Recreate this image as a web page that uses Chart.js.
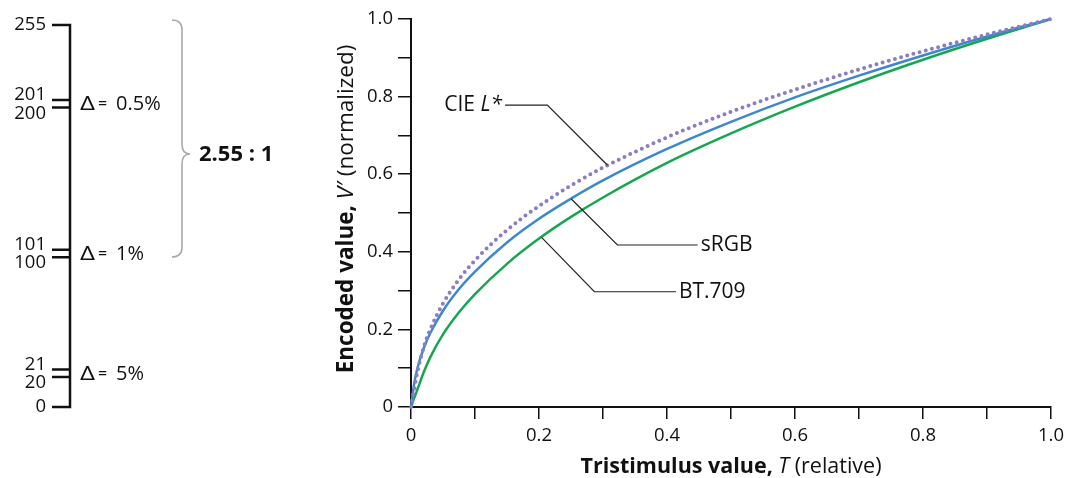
<!DOCTYPE html>
<html>
<head>
<meta charset="utf-8">
<script src="https://cdn.jsdelivr.net/npm/chart.js@4"></script>
<style>
html, body { margin: 0; padding: 0; background: #fff; }
</style>
</head>
<body>
<canvas id="chart" width="1070" height="478"></canvas>
<script>
// values
const tristimulus = [0, 0.005, 0.01, 0.02, 0.03, 0.05, 0.075, 0.1, 0.15, 0.2, 0.25, 0.3, 0.4, 0.5, 0.6, 0.7, 0.8, 0.9, 1.0];
const cieL  = [0, 0.045, 0.090, 0.155, 0.200, 0.267, 0.329, 0.378, 0.456, 0.518, 0.571, 0.617, 0.695, 0.761, 0.818, 0.870, 0.917, 0.960, 1.0];
const srgb  = [0, 0.061, 0.100, 0.152, 0.190, 0.248, 0.304, 0.349, 0.424, 0.485, 0.537, 0.584, 0.665, 0.735, 0.798, 0.854, 0.906, 0.955, 1.0];
const bt709 = [0, 0.023, 0.045, 0.090, 0.128, 0.187, 0.244, 0.291, 0.369, 0.434, 0.490, 0.540, 0.629, 0.705, 0.774, 0.837, 0.895, 0.949, 1.0];

// left-hand code value scale
const codeValues = [0, 20, 21, 100, 101, 200, 201, 255];
const deltaLabels = ['5%', '1%', '0.5%'];
const ratioLabel = '2.55 : 1';

const FONT = "'Open Sans', sans-serif";
const INK = '#111';

const pts = ys => tristimulus.map((t, i) => ({ x: t, y: ys[i] }));

// draws text made of runs with different styles
function drawRuns(ctx, runs, x, y, align) {
    let total = 0;
    runs.forEach(r => { ctx.font = r.font; r.w = ctx.measureText(r.text).width; total += r.w; });
    let cx = align === 'center' ? x - total / 2 : align === 'right' ? x - total : x;
    ctx.textAlign = 'left';
    runs.forEach(r => { ctx.font = r.font; ctx.fillText(r.text, cx, y); cx += r.w; });
}

const leaders = [
    { runs: [{ text: 'CIE ', font: `21px ${FONT}` }, { text: 'L*', font: `italic 21px ${FONT}` }],
      anchor: [0.307, 0.623], elbow: [0.213, 0.778], end: [0.147, 0.778], side: 'left' },
    { runs: [{ text: 'sRGB', font: `21px ${FONT}` }],
      anchor: [0.2505, 0.536], elbow: [0.3225, 0.4175], end: [0.448, 0.4175], side: 'right' },
    { runs: [{ text: 'BT.709', font: `21px ${FONT}` }],
      anchor: [0.204, 0.437], elbow: [0.2866, 0.297], end: [0.414, 0.297], side: 'right' }
];

const decor = {
    id: 'decor',
    afterDatasetsDraw(chart) {
        const { ctx, scales: { x, y } } = chart;
        ctx.save();
        ctx.strokeStyle = '#222';
        ctx.lineWidth = 1.2;
        ctx.fillStyle = INK;
        ctx.textBaseline = 'middle';
        leaders.forEach(l => {
            ctx.beginPath();
            ctx.moveTo(x.getPixelForValue(l.anchor[0]), y.getPixelForValue(l.anchor[1]));
            ctx.lineTo(x.getPixelForValue(l.elbow[0]), y.getPixelForValue(l.elbow[1]));
            ctx.lineTo(x.getPixelForValue(l.end[0]), y.getPixelForValue(l.end[1]));
            ctx.stroke();
            const ex = x.getPixelForValue(l.end[0]), ey = y.getPixelForValue(l.end[1]);
            if (l.side === 'left') drawRuns(ctx, l.runs, ex - 3, ey, 'right');
            else drawRuns(ctx, l.runs, ex + 3, ey, 'left');
        });
        ctx.restore();
    },
    afterDraw(chart) {
        const { ctx, chartArea: a } = chart;
        ctx.save();
        ctx.fillStyle = INK;

        // axis titles
        ctx.textBaseline = 'alphabetic';
        drawRuns(ctx, [
            { text: 'Tristimulus value, ', font: `bold 21.5px ${FONT}` },
            { text: 'T', font: `italic 21.5px ${FONT}` },
            { text: ' (relative)', font: `21.5px ${FONT}` }
        ], (a.left + a.right) / 2, 473, 'center');

        ctx.save();
        ctx.translate(353, (a.top + a.bottom) / 2 - 4);
        ctx.rotate(-Math.PI / 2);
        drawRuns(ctx, [
            { text: 'Encoded value, ', font: `bold 22.5px ${FONT}` },
            { text: 'V\u2032', font: `italic 22.5px ${FONT}` },
            { text: ' (normalized)', font: `22.5px ${FONT}` }
        ], 0, 0, 'center');
        ctx.restore();

        // code value scale on the left
        const y0 = 407, y255 = 25, barX = 70, tickX = 52;
        const codeY = v => y0 - v / 255 * (y0 - y255);
        ctx.strokeStyle = INK;
        ctx.lineWidth = 2.5;
        ctx.lineJoin = 'miter';
        ctx.beginPath();
        ctx.moveTo(tickX, y255);
        ctx.lineTo(barX, y255);
        ctx.lineTo(barX, y0);
        ctx.lineTo(tickX, y0);
        ctx.stroke();

        ctx.font = `18.5px ${FONT}`;
        ctx.textAlign = 'right';
        ctx.textBaseline = 'middle';
        ctx.fillText(String(codeValues[0]), 46, y0);
        ctx.fillText(String(codeValues[codeValues.length - 1]), 46, y255);

        const pairs = codeValues.filter(v => codeValues.includes(v + 1));
        pairs.forEach((v, i) => {
            const lo = codeY(v), hi = lo - 7.5;
            ctx.lineWidth = 2.5;
            ctx.beginPath();
            ctx.moveTo(tickX, lo); ctx.lineTo(barX, lo);
            ctx.moveTo(tickX, hi); ctx.lineTo(barX, hi);
            ctx.stroke();
            ctx.font = `18.5px ${FONT}`;
            ctx.textAlign = 'right';
            ctx.fillText(String(v + 1), 46, hi - 5);
            ctx.fillText(String(v), 46, lo + 6);
            const my = (lo + hi) / 2 + 1;
            ctx.textAlign = 'left';
            ctx.save();
            ctx.translate(80, my);
            ctx.scale(1.3, 1);
            ctx.font = `20px ${FONT}`;
            ctx.fillText('\u0394', 0, 0);
            ctx.restore();
            ctx.font = `16px ${FONT}`;
            ctx.fillText('=', 98, my);
            ctx.font = `20px ${FONT}`;
            ctx.fillText(deltaLabels[i], 116, my);
        });

        // brace
        ctx.strokeStyle = '#a9a9a9';
        ctx.lineWidth = 1.6;
        const bx = 182, top = 20, bot = 257, mid = 154;
        ctx.beginPath();
        ctx.moveTo(172, top);
        ctx.quadraticCurveTo(bx, top, bx, top + 10);
        ctx.lineTo(bx, mid - 10);
        ctx.quadraticCurveTo(bx, mid, bx + 8, mid);
        ctx.quadraticCurveTo(bx, mid, bx, mid + 10);
        ctx.lineTo(bx, bot - 10);
        ctx.quadraticCurveTo(bx, bot, 172, bot);
        ctx.stroke();

        ctx.fillStyle = INK;
        ctx.font = `bold 22px ${FONT}`;
        ctx.textAlign = 'left';
        ctx.textBaseline = 'middle';
        ctx.fillText(ratioLabel, 199, mid + 1);
        ctx.restore();
    }
};

const tickText = v => {
    const k = Math.round(v * 10);
    if (k % 2 !== 0) return '';
    return k === 0 ? '0' : (k / 10).toFixed(1);
};

new Chart(document.getElementById('chart'), {
    type: 'line',
    data: {
        datasets: [
            { label: 'CIE L*', data: pts(cieL), borderColor: '#8a7dc4', borderWidth: 4,
              borderDash: [0, 6.4], borderCapStyle: 'round' },
            { label: 'sRGB', data: pts(srgb), borderColor: '#3d88c9', borderWidth: 2.5 },
            { label: 'BT.709', data: pts(bt709), borderColor: '#17a650', borderWidth: 2.5 }
        ]
    },
    options: {
        responsive: false,
        animation: false,
        layout: { padding: { left: 340, right: 11, top: 19, bottom: 0 } },
        elements: { point: { radius: 0 }, line: { cubicInterpolationMode: 'monotone', fill: false } },
        datasets: { line: { clip: 6 } },
        plugins: { legend: { display: false }, tooltip: { enabled: false } },
        scales: {
            x: {
                type: 'linear', min: 0, max: 1,
                afterFit: s => { s.height = 71; },
                ticks: { stepSize: 0.1, autoSkip: false, maxRotation: 0, padding: 6,
                         color: INK, font: { family: FONT, size: 18.5 }, callback: tickText },
                grid: { drawOnChartArea: false, tickLength: 12, color: INK, lineWidth: 1.5 },
                border: { color: INK, width: 2 }
            },
            y: {
                min: 0, max: 1,
                afterFit: s => { s.width = 71; },
                ticks: { stepSize: 0.1, autoSkip: false, padding: 5,
                         color: INK, font: { family: FONT, size: 18.5 }, callback: tickText },
                grid: { drawOnChartArea: false, tickLength: 13, color: INK, lineWidth: 1.5 },
                border: { color: INK, width: 2 }
            }
        }
    },
    plugins: [decor]
});
</script>
</body>
</html>
